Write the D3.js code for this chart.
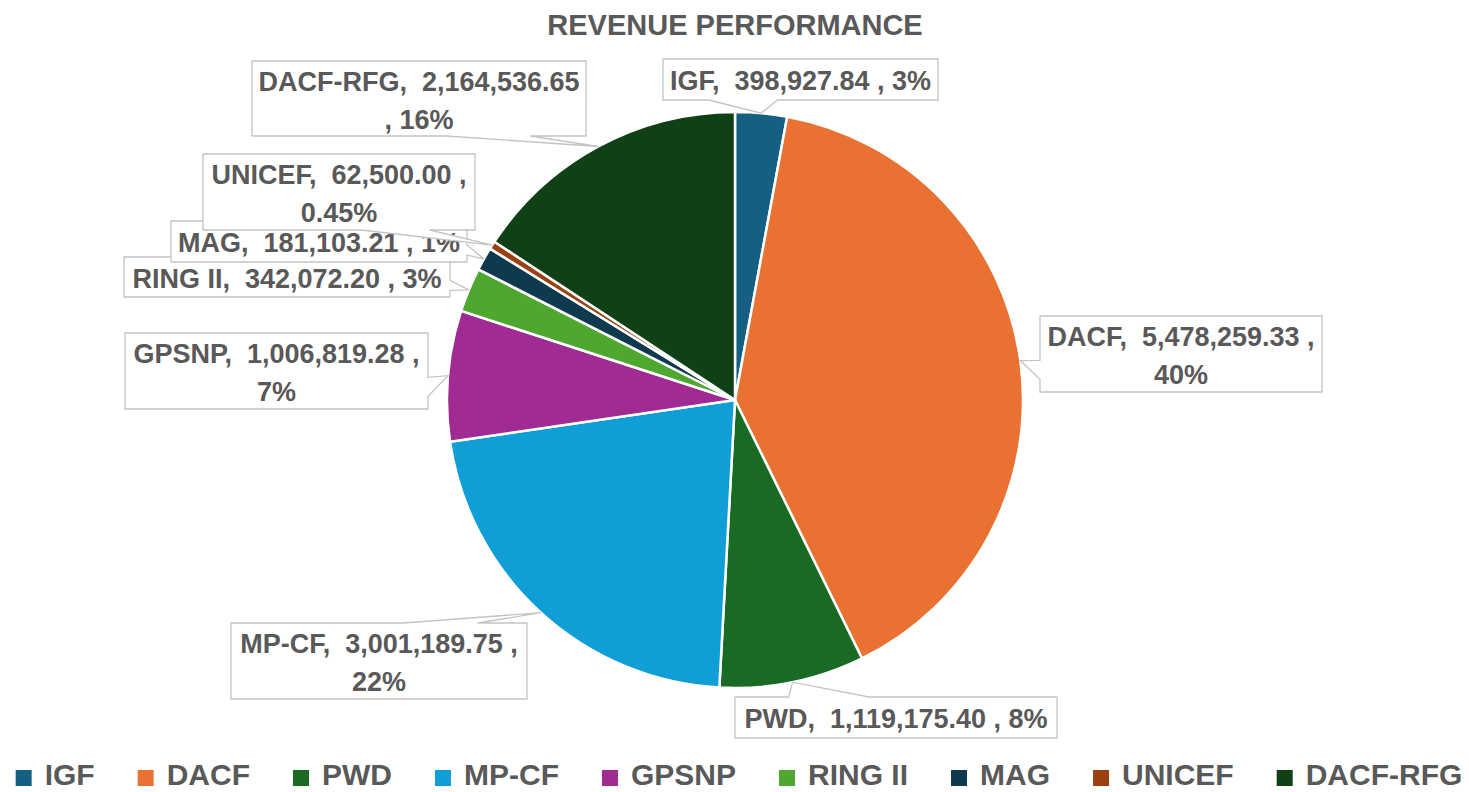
<!DOCTYPE html>
<html>
<head>
<meta charset="utf-8">
<script src="https://cdn.jsdelivr.net/npm/d3@7"></script>
<style>
	body { margin: 0; background: #fff; }
	text { font-family: "Liberation Sans", Arial, sans-serif; font-weight: bold; fill: #595959; white-space: pre; }
</style>
</head>
<body>
<script>
// data
var categories = ["IGF", "DACF", "PWD", "MP-CF", "GPSNP", "RING II", "MAG", "UNICEF", "DACF-RFG"];
var values = [398927.84, 5478259.33, 1119175.40, 3001189.75, 1006819.28, 342072.20, 181103.21, 62500.00, 2164536.65];
var pctLabels = ["3%", "40%", "8%", "22%", "7%", "3%", "1%", "0.45%", "16%"];
var colors = ["#156082", "#E97132", "#196B24", "#0F9ED5", "#A02B93", "#4EA72E", "#0D3A4E", "#994111", "#0F4016"];

// callout boxes (layout only): where each label sits and how its text wraps
var labelBoxes = [
	{ x: 663, y: 59, w: 275, h: 41, wrap: 0 },
	{ x: 1040, y: 316, w: 282, h: 76, wrap: 1 },
	{ x: 735, y: 697, w: 322, h: 41, wrap: 0 },
	{ x: 231, y: 623, w: 296, h: 76, wrap: 1 },
	{ x: 125, y: 333, w: 303, h: 76, wrap: 1 },
	{ x: 124, y: 257, w: 326, h: 40, wrap: 0 },
	{ x: 171, y: 221, w: 296, h: 41, wrap: 0 },
	{ x: 203, y: 154, w: 272, h: 76, wrap: 1 },
	{ x: 252, y: 61, w: 334, h: 75, wrap: 2 }
];

var width = 1469,
	height = 792,
	cx = 735,
	cy = 400,
	radius = 288;

var fmt = d3.format(",.2f");

var svg = d3.select("body")
	.append("svg")
		.attr("width", width)
		.attr("height", height);

// title
svg.append("text")
	.attr("x", cx)
	.attr("y", 35)
	.attr("text-anchor", "middle")
	.style("font-size", "29px")
	.text("REVENUE PERFORMANCE");

var slices = categories.map(function(c, i) {
	return { name: c, value: values[i], pct: pctLabels[i], color: colors[i], box: labelBoxes[i] };
});

var pie = d3.pie()
	.sort(null)
	.value(function(d) { return d.value; });

var arc = d3.arc()
	.innerRadius(0)
	.outerRadius(radius);

var arcs = pie(slices);

var chart = svg.append("g")
	.attr("transform", "translate(" + cx + "," + cy + ")");

chart.selectAll("path")
	.data(arcs)
	.enter()
	.append("path")
		.attr("d", arc)
		.attr("fill", function(d) { return d.data.color; })
		.attr("stroke", "#fff")
		.attr("stroke-width", 2.5)
		.attr("stroke-linejoin", "round");

// rectangle callout with a wedge pointing at the slice edge
function calloutPath(b, ax, ay) {
	var mx = b.x + b.w / 2, my = b.y + b.h / 2;
	var dx = (ax - mx) / b.w, dy = (ay - my) / b.h;
	var x0 = b.x, x1 = b.x + b.w, y0 = b.y, y1 = b.y + b.h;
	var pts, s, p1, p2, lo, hi;
	if (Math.abs(dx) > Math.abs(dy)) {
		s = ay > my ? 1 : -1;
		p1 = my + s * b.h / 12; p2 = my + s * b.h / 3;
		lo = Math.min(p1, p2); hi = Math.max(p1, p2);
		if (dx > 0) pts = [[x0, y0], [x1, y0], [x1, lo], [ax, ay], [x1, hi], [x1, y1], [x0, y1]];
		else pts = [[x0, y0], [x1, y0], [x1, y1], [x0, y1], [x0, hi], [ax, ay], [x0, lo]];
	} else {
		s = ax > mx ? 1 : -1;
		p1 = mx + s * b.w / 12; p2 = mx + s * b.w / 3;
		lo = Math.min(p1, p2); hi = Math.max(p1, p2);
		if (dy > 0) pts = [[x0, y0], [x1, y0], [x1, y1], [hi, y1], [ax, ay], [lo, y1], [x0, y1]];
		else pts = [[x0, y0], [lo, y0], [ax, ay], [hi, y0], [x1, y0], [x1, y1], [x0, y1]];
	}
	return "M" + pts.join("L") + "Z";
}

function labelLines(d) {
	var head = d.name + ",  " + fmt(d.value);
	var wrap = d.box.wrap;
	if (wrap === 1) return [head + " ,", d.pct];
	if (wrap === 2) return [head, ", " + d.pct];
	return [head + " , " + d.pct];
}

var labels = svg.append("g").attr("class", "labels");

arcs.forEach(function(a) {
	var d = a.data, b = d.box;
	var mid = (a.startAngle + a.endAngle) / 2;
	var ax = cx + radius * Math.sin(mid),
		ay = cy - radius * Math.cos(mid);

	var g = labels.append("g");
	g.append("path")
		.attr("d", calloutPath(b, ax, ay))
		.attr("fill", "#fff")
		.attr("stroke", "#c4c4c4")
		.attr("stroke-width", 1.3)
		.attr("stroke-linejoin", "miter");

	var lines = labelLines(d);
	var first = lines.length === 1 ? b.y + 31 : b.y + 30;
	lines.forEach(function(t, j) {
		g.append("text")
			.attr("x", b.x + b.w / 2)
			.attr("y", first + j * 38)
			.attr("text-anchor", "middle")
			.style("font-size", "27px")
			.text(t);
	});
});

// legend, centred along the bottom
var legend = svg.append("g").attr("class", "legend");
var items = legend.selectAll("g")
	.data(slices)
	.enter()
	.append("g");

items.append("rect")
	.attr("width", 16)
	.attr("height", 16)
	.attr("y", 770)
	.attr("fill", function(d) { return d.color; });

items.append("text")
	.attr("x", 29)
	.attr("y", 785)
	.style("font-size", "30px")
	.text(function(d) { return d.name; });

var pos = 0, gap = 43;
items.each(function() {
	var w = d3.select(this).select("text").node().getComputedTextLength();
	this.__x = pos;
	pos += 29 + w + gap;
});
var total = pos - gap,
	start = 739 - total / 2;
items.attr("transform", function() { return "translate(" + (start + this.__x) + ",0)"; });
</script>
</body>
</html>
